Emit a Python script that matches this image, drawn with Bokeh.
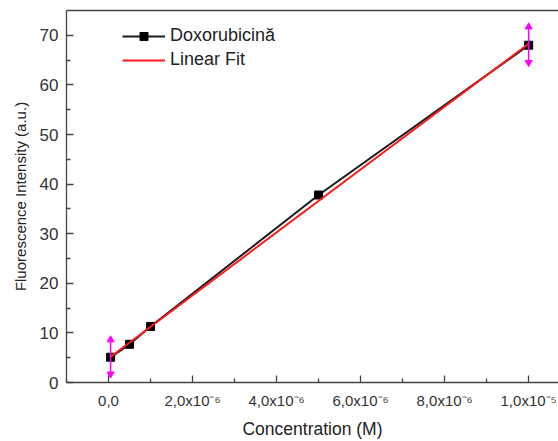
from bokeh.plotting import figure
from bokeh.models import (FixedTicker, CustomJSTickFormatter, Legend, LegendItem,
                          LinearAxis, Range1d)
from bokeh.embed import file_html
from bokeh.resources import INLINE

# Data
conc = [5e-8, 5e-7, 1e-6, 5e-6, 1e-5]
intensity = [5.1, 7.7, 11.3, 37.8, 68.0]

fit_x = [5e-8, 1e-5]
fit_y = [5.2, 68.3]

# range markers (magenta arrows) at the fit range ends
arrow_x = [5e-8, 1e-5]
arrow_lo = [1.7, 64.5]
arrow_hi = [8.6, 71.7]

x_ticks = [0, 2e-6, 4e-6, 6e-6, 8e-6, 1e-5]
x_tick_labels = ["0,0", "2,0x10⁻⁶", "4,0x10⁻⁶", "6,0x10⁻⁶", "8,0x10⁻⁶", "1,0x10⁻⁵"]
y_ticks = [0, 10, 20, 30, 40, 50, 60, 70]

FONT = "Liberation Sans"
TXT = "#333333"

p = figure(width=558, height=441, output_backend="svg", toolbar_location=None,
           x_range=Range1d(-1e-6, 10.71e-6), y_range=Range1d(0, 75),
           min_border_left=66, min_border_right=0, min_border_top=10,
           min_border_bottom=58)
p.outline_line_color = None
p.grid.visible = False
p.background_fill_color = "white"
p.border_fill_color = "white"

xa = p.below[0]
xa.ticker = FixedTicker(ticks=x_ticks, minor_ticks=[-1e-6, 1e-6, 3e-6, 5e-6, 7e-6, 9e-6])
xa.formatter = CustomJSTickFormatter(args=dict(tvals=x_ticks, tlabels=x_tick_labels), code="""
const i = tvals.findIndex(t => Math.abs(t - tick) < 1e-12);
return i >= 0 ? tlabels[i] : "";
""")
ya = p.left[0]
ya.ticker = FixedTicker(ticks=y_ticks, minor_ticks=[5, 15, 25, 35, 45, 55, 65])

for ax in (xa, ya):
    ax.major_tick_in = 7
    ax.major_tick_out = 0
    ax.minor_tick_in = 4
    ax.minor_tick_out = 0
    ax.axis_line_color = "#444444"
    ax.major_tick_line_color = "#444444"
    ax.minor_tick_line_color = "#444444"
    ax.axis_line_width = 1.3
    ax.major_tick_line_width = 1.3
    ax.minor_tick_line_width = 1.3
    ax.major_label_text_font = FONT
    ax.major_label_text_color = TXT
    ax.axis_label_text_font = FONT
    ax.axis_label_text_font_style = "normal"
    ax.axis_label_text_color = "#222222"

xa.major_label_text_font_size = "15px"
ya.major_label_text_font_size = "17px"
xa.axis_label = "Concentration (M)"
xa.axis_label_text_font_size = "17.5px"
xa.major_label_standoff = 9
xa.axis_label_standoff = 7
ya.axis_label = "Fluorescence Intensity (a.u.)"
ya.axis_label_text_font_size = "15px"
ya.major_label_standoff = 8
ya.axis_label_standoff = 8

# top border line
top = LinearAxis(ticker=FixedTicker(ticks=[]), major_label_text_font_size="0px",
                 major_tick_in=0, major_tick_out=0, minor_tick_in=0, minor_tick_out=0,
                 major_label_standoff=0,
                 axis_line_color="#444444", axis_line_width=1.3)
p.add_layout(top, "above")

# data line + markers
dl = p.line(conc, intensity, line_color="#1a1a1a", line_width=2)
dm = p.scatter(conc, intensity, marker="square", size=8, fill_color="black",
               line_color="black")
# fit
fl = p.line(fit_x, fit_y, line_color="#ff1a1a", line_width=2)

# magenta arrows
p.segment(arrow_x, arrow_lo, arrow_x, arrow_hi, line_color="magenta", line_width=1.5)
p.scatter(arrow_x, arrow_hi, marker="triangle", size=7, fill_color="magenta",
          line_color="magenta")
p.scatter(arrow_x, arrow_lo, marker="inverted_triangle", size=7, fill_color="magenta",
          line_color="magenta")

legend = Legend(items=[LegendItem(label="Doxorubicină", renderers=[dl, dm]),
                       LegendItem(label="Linear Fit", renderers=[fl])],
                location=(56, 312), padding=0, margin=0, spacing=3,
                glyph_width=43, glyph_height=20, label_height=20,
                label_standoff=5, label_text_font=FONT,
                label_text_font_size="18px", label_text_color="#222222",
                background_fill_alpha=0, border_line_color=None)
p.add_layout(legend, "center")

open("out.html", "w").write(file_html(p, INLINE))
